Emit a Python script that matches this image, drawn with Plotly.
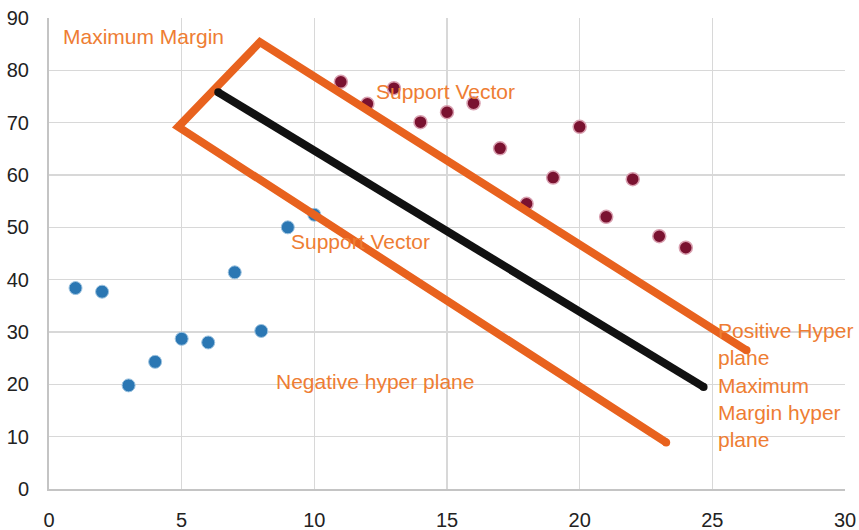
import plotly.graph_objects as go

# Negative class (blue)
neg_x = [1, 2, 3, 4, 5, 6, 7, 8, 9, 10]
neg_y = [38.4, 37.7, 19.8, 24.3, 28.7, 28.0, 41.4, 30.2, 50.0, 52.4]

# Positive class (dark red)
pos_x = [11, 12, 13, 14, 15, 16, 17, 18, 19, 20, 21, 22, 23, 24]
pos_y = [77.8, 73.6, 76.6, 70.1, 72.0, 73.7, 65.1, 54.5, 59.5, 69.2, 52.0, 59.2, 48.3, 46.1]

# Margin outline (positive hyperplane -> top corner -> left corner -> negative hyperplane)
margin_x = [26.29, 7.95, 4.87, 23.26]
margin_y = [26.5, 85.4, 69.2, 8.9]

# Maximum margin hyperplane
hyper_x = [6.38, 24.67]
hyper_y = [75.8, 19.5]

# Axis ticks
x_ticks = [0, 5, 10, 15, 20, 25, 30]
y_ticks = [0, 10, 20, 30, 40, 50, 60, 70, 80, 90]

ORANGE_LINE = "#e8621e"
ORANGE_TEXT = "#ee7d33"

fig = go.Figure()

fig.add_trace(go.Scatter(
    x=neg_x, y=neg_y, mode="markers",
    marker=dict(size=13, color="#2b77b3", line=dict(color="#9cc3e0", width=1)),
    showlegend=False, hoverinfo="skip"))

fig.add_trace(go.Scatter(
    x=pos_x, y=pos_y, mode="markers",
    marker=dict(size=13, color="#7a1230", line=dict(color="#d9a0b0", width=1.5)),
    showlegend=False, hoverinfo="skip"))

fig.add_trace(go.Scatter(
    x=margin_x, y=margin_y, mode="lines",
    line=dict(color=ORANGE_LINE, width=8),
    showlegend=False, hoverinfo="skip"))

fig.add_trace(go.Scatter(
    x=[margin_x[0], margin_x[-1]], y=[margin_y[0], margin_y[-1]], mode="markers",
    marker=dict(size=8, color=ORANGE_LINE),
    showlegend=False, hoverinfo="skip"))

fig.add_trace(go.Scatter(
    x=hyper_x, y=hyper_y, mode="lines+markers",
    line=dict(color="#111111", width=8),
    marker=dict(size=8, color="#111111"),
    showlegend=False, hoverinfo="skip"))

ann_font = dict(family="Liberation Sans, Arial, sans-serif", size=21, color=ORANGE_TEXT)
annotations = [
    dict(x=0.45, y=86.4, text="Maximum Margin"),
    dict(x=12.24, y=75.9, text="Support Vector"),
    dict(x=9.04, y=47.3, text="Support Vector"),
    dict(x=8.47, y=20.5, text="Negative hyper plane"),
    dict(x=25.12, y=19.9, text="Positive Hyper<br>plane<br>Maximum<br>Margin hyper<br>plane"),
]
for a in annotations:
    fig.add_annotation(x=a["x"], y=a["y"], text=a["text"], xref="x", yref="y",
                       xanchor="left", yanchor="middle", align="left",
                       showarrow=False, font=ann_font)

axis_font = dict(family="Liberation Sans, Arial, sans-serif", size=20, color="#222222")
fig.update_xaxes(range=[0, 30], tickvals=x_ticks, showgrid=True, gridcolor="#d8d8d8",
                 gridwidth=1.5, zeroline=False, showline=True, linecolor="#c4c4c4",
                 linewidth=2, tickfont=axis_font, ticks="outside", ticklen=12,
                 tickcolor="rgba(0,0,0,0)", fixedrange=True, automargin=False)
fig.update_yaxes(range=[0, 90], tickvals=y_ticks, showgrid=True, gridcolor="#d8d8d8",
                 gridwidth=1.5, zeroline=False, showline=True, linecolor="#c4c4c4",
                 linewidth=2, tickfont=axis_font, ticks="outside", ticklen=14,
                 tickcolor="rgba(0,0,0,0)", fixedrange=True, automargin=False)

fig.update_layout(
    width=859, height=530,
    margin=dict(l=49, r=14, t=18, b=41),
    plot_bgcolor="white", paper_bgcolor="white",
    showlegend=False,
)

fig.write_html("out.html",
               config={"displayModeBar": False, "staticPlot": True},
               post_script="document.body.style.margin='0';document.body.style.overflow='hidden';")
